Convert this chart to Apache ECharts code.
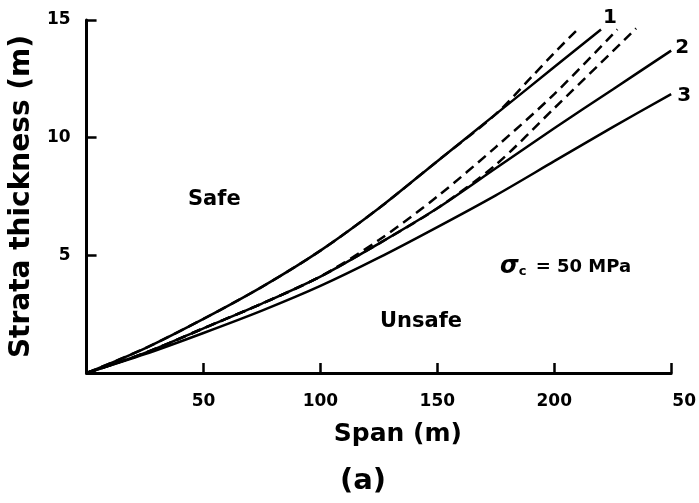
<!DOCTYPE html>
<html>
<head>
<meta charset="utf-8">
<script src="https://cdn.jsdelivr.net/npm/echarts@6/dist/echarts.min.js"></script>
<style>
  html, body { margin: 0; padding: 0; background: #fff; }
  #main { width: 699px; height: 503px; }
</style>
</head>
<body>
<div id="main"></div>
<script>
// span (m) and strata thickness (m)
var solid1X = [0, 25, 50, 75, 100, 125, 150, 175, 200, 220];
var solid1Y = [0, 1.05, 2.3, 3.66, 5.2, 7.0, 9.0, 11.0, 13.0, 14.6];
var solid2X = [0, 25, 50, 75, 100, 125, 150, 175, 200, 225, 250];
var solid2Y = [0, 0.85, 1.9, 2.95, 4.1, 5.5, 7.0, 8.7, 10.4, 12.05, 13.7];
var solid3X = [0, 25, 50, 75, 100, 125, 150, 175, 200, 225, 250];
var solid3Y = [0, 0.8, 1.7, 2.65, 3.7, 4.9, 6.2, 7.55, 9.0, 10.45, 11.85];
var dashAX = [0, 25, 50, 75, 100, 125, 150, 175, 190, 200, 211];
var dashAY = [0, 1.05, 2.3, 3.66, 5.2, 7.0, 9.0, 11.0, 12.55, 13.6, 14.7];
var dashBX = [0, 25, 50, 75, 100, 125, 150, 175, 200, 227];
var dashBY = [0, 0.85, 1.9, 2.95, 4.1, 5.65, 7.5, 9.6, 11.85, 14.6];
var dashCX = [0, 25, 50, 75, 100, 125, 150, 175, 200, 235];
var dashCY = [0, 0.85, 1.9, 2.95, 4.1, 5.5, 7.0, 8.85, 11.25, 14.64];

var xTicks = [50, 100, 150, 200, 250];
var yTicks = [5, 10, 15];

function pairs(xs, ys) {
  return xs.map(function (x, i) { return [x, ys[i]]; });
}

var font = 'DejaVu Sans';

function lineSeries(name, xs, ys, dashed, label, offset) {
  var s = {
    name: name,
    type: 'line',
    data: pairs(xs, ys),
    symbol: 'none',
    smooth: 0.3,
    z: dashed ? 2 : 3,
    lineStyle: { color: '#000', width: 2.5, type: dashed ? [10, 6] : 'solid' }
  };
  if (label) {
    s.endLabel = {
      show: true,
      formatter: label,
      offset: offset,
      color: '#000',
      fontFamily: font,
      fontWeight: 'bold',
      fontSize: 20
    };
  }
  return s;
}

var chart = echarts.init(document.getElementById('main'));
var option = {
  animation: false,
  backgroundColor: '#fff',
  grid: { left: 82, right: 24, top: 20, bottom: 130 },
  xAxis: {
    type: 'value',
    min: 0,
    max: 250,
    interval: 50,
    name: 'Span (m)',
    nameLocation: 'middle',
    nameGap: 49,
    nameTextStyle: { color: '#000', fontFamily: font, fontWeight: 'bold', fontSize: 25, padding: [0, 0, 0, 38] },
    splitLine: { show: false },
    axisLine: { lineStyle: { color: '#000', width: 3 } },
    axisTick: { inside: true, length: 10, lineStyle: { color: '#000', width: 2.5 } },
    axisLabel: {
      margin: 20,
      color: '#000',
      fontFamily: font,
      fontWeight: 'bold',
      fontSize: 17,
      formatter: function (v) {
        if (xTicks.indexOf(v) < 0) return '';
        return v === 250 ? '{cut|50}' : String(v);
      },
      rich: { cut: { padding: [0, 0, 0, 26], fontFamily: font, fontWeight: 'bold', fontSize: 17, color: '#000' } }
    }
  },
  yAxis: {
    type: 'value',
    min: 0,
    max: 15,
    interval: 5,
    name: 'Strata thickness (m)',
    nameLocation: 'middle',
    nameGap: 44,
    nameRotate: 90,
    nameTextStyle: { color: '#000', fontFamily: font, fontWeight: 'bold', fontSize: 28 },
    splitLine: { show: false },
    axisLine: { lineStyle: { color: '#000', width: 3 } },
    axisTick: { inside: true, length: 10, lineStyle: { color: '#000', width: 2.5 } },
    axisLabel: {
      margin: 16,
      color: '#000',
      fontFamily: font,
      fontWeight: 'bold',
      fontSize: 17,
      formatter: function (v) { return yTicks.indexOf(v) < 0 ? '' : String(v); }
    }
  },
  graphic: [
    { type: 'text', left: 188, top: 189, style: { text: 'Safe', fill: '#000', font: 'bold 21px "DejaVu Sans"' } },
    { type: 'text', left: 380, top: 311, style: { text: 'Unsafe', fill: '#000', font: 'bold 21px "DejaVu Sans"' } },
    {
      type: 'text', left: 500, top: 255,
      style: {
        text: '{s|σ}{c|c} = 50 MPa',
        fill: '#000',
        font: 'bold 18px "DejaVu Sans"',
        rich: {
          s: { fontFamily: font, fontWeight: 'bold', fontStyle: 'italic', fontSize: 24, fill: '#000' },
          c: { fontFamily: font, fontWeight: 'bold', fontSize: 13, fill: '#000', padding: [10, 3, 0, 0] }
        }
      }
    },
    { type: 'text', left: 340, top: 467, style: { text: '(a)', fill: '#000', font: 'bold 29px "DejaVu Sans"' } }
  ],
  series: [
    lineSeries('dashA', dashAX, dashAY, true),
    lineSeries('dashB', dashBX, dashBY, true),
    lineSeries('dashC', dashCX, dashCY, true),
    lineSeries('1', solid1X, solid1Y, false, '1', [-6, -12]),
    lineSeries('2', solid2X, solid2Y, false, '2', [-4, -3]),
    lineSeries('3', solid3X, solid3Y, false, '3', [-2, 2])
  ]
};
chart.setOption(option);
</script>
</body>
</html>
